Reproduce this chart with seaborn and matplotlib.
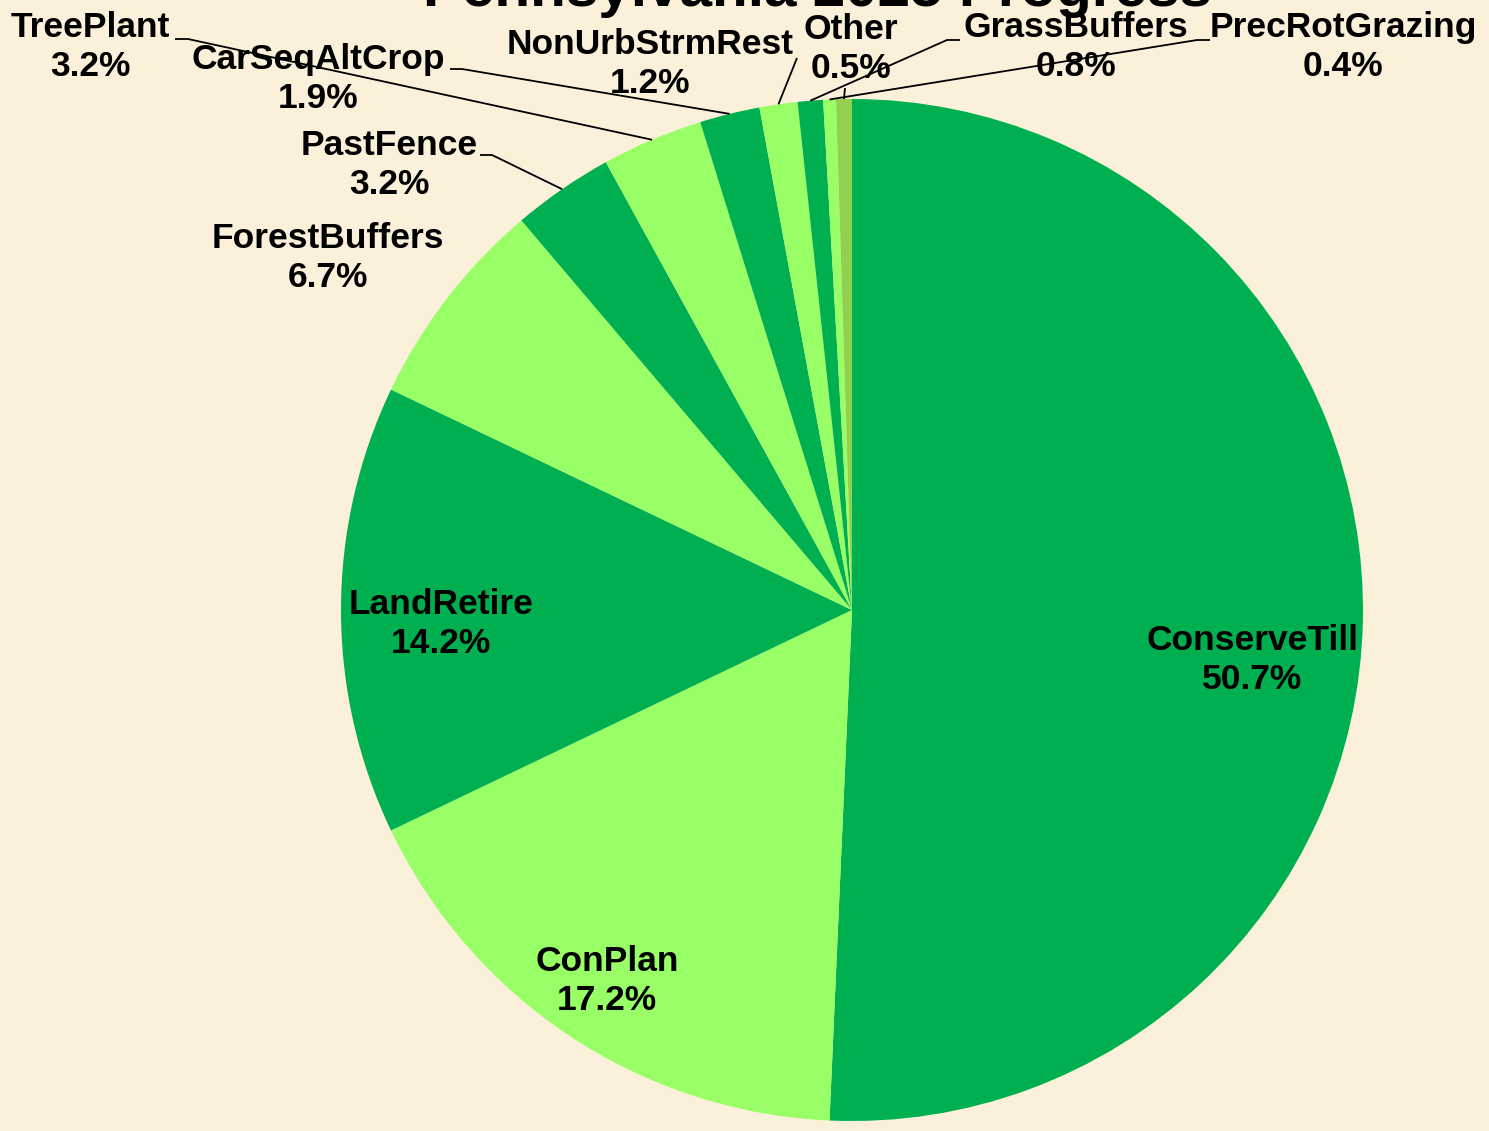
import matplotlib
matplotlib.use("Agg")
import matplotlib.pyplot as plt
import numpy as np
import seaborn as sns

# Pennsylvania BMP share, clockwise from 12 o'clock
categories = ["ConserveTill", "ConPlan", "LandRetire", "ForestBuffers", "PastFence",
              "TreePlant", "CarSeqAltCrop", "NonUrbStrmRest", "GrassBuffers",
              "PrecRotGrazing", "Other"]
shares = [50.7, 17.2, 14.2, 6.7, 3.2, 3.2, 1.9, 1.2, 0.8, 0.4, 0.5]

DARK = "#00B050"
LIGHT = "#99FF66"
OLIVE = "#92D050"
BG = "#FBF0D9"
W, H = 1489, 1131

# label layout in image pixels (x, y from top): text centre, leader start
label_pos = {
    "ConserveTill": (1252, 660), "ConPlan": (607, 981), "LandRetire": (441, 624),
    "ForestBuffers": (328, 258), "PastFence": (389, 165), "TreePlant": (90, 47),
    "CarSeqAltCrop": (318, 79), "NonUrbStrmRest": (650, 64), "Other": (851, 49),
    "GrassBuffers": (1076, 47), "PrecRotGrazing": (1343, 47),
}
leader_start = {
    "PastFence": [(480, 155), (492, 155)],
    "TreePlant": [(175, 39), (188, 39)],
    "CarSeqAltCrop": [(450, 69), (462, 69)],
    "NonUrbStrmRest": [(797, 58)],
    "Other": [(845, 88)],
    "GrassBuffers": [(960, 40), (947, 40)],
    "PrecRotGrazing": [(1210, 40), (1197, 40)],
}


def setup_style():
    sns.set_style("white")
    plt.rcParams["font.family"] = ["Liberation Sans", "DejaVu Sans"]
    plt.rcParams["font.weight"] = "bold"


def main():
    setup_style()
    colors = sns.color_palette([DARK, LIGHT] * 5 + [OLIVE])

    fig = plt.figure(figsize=(W / 100, H / 100), dpi=100, facecolor=BG)
    ax = fig.add_axes([0, 0, 1, 1])
    ax.set_facecolor(BG)

    cx, cy, r = 852, H - 610, 511
    wedges, _ = ax.pie(shares, colors=colors, startangle=90, counterclock=False,
                       center=(cx, cy), radius=r,
                       wedgeprops={"linewidth": 0, "antialiased": True})
    ax.set_xlim(0, W)
    ax.set_ylim(0, H)
    ax.set_aspect("equal")
    ax.axis("off")

    for name, val, w in zip(categories, shares, wedges):
        px, py = label_pos[name]
        ax.text(px, H - py, f"{name}\n{val:.1f}%", ha="center", va="center",
                fontsize=25.5, fontweight="bold", color="black", linespacing=1.22)
        if name in leader_start:
            mid = np.deg2rad((w.theta1 + w.theta2) / 2)
            ex, ey = cx + r * np.cos(mid), cy + r * np.sin(mid)
            pts = [(x, H - y) for x, y in leader_start[name]] + [(ex, ey)]
            xs, ys = zip(*pts)
            ax.plot(xs, ys, color="black", linewidth=1.3, solid_capstyle="butt")

    # title sits partly above the canvas, as in the source slide
    ax.text(817, H - 6, "Pennsylvania 2025 Progress", ha="center", va="baseline",
            fontsize=42, fontweight="bold", color="black")

    fig.savefig("out.png", dpi=100, facecolor=BG)
    plt.close(fig)


if __name__ == "__main__":
    main()
